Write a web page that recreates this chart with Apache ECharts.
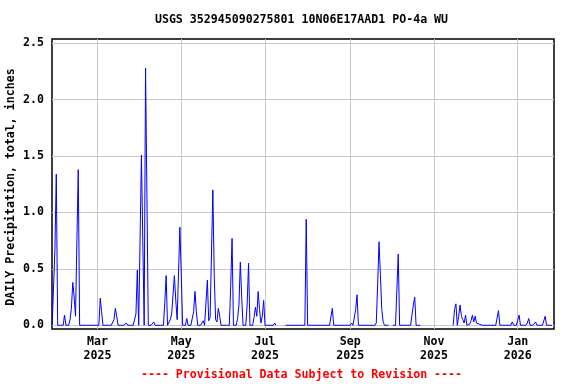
<!DOCTYPE html>
<html><head><meta charset="utf-8">
<script src="https://cdn.jsdelivr.net/npm/echarts@6/dist/echarts.min.js"></script>
<style>html,body{margin:0;padding:0;background:#fff}#c{width:576px;height:384px}</style>
</head><body><div id="c"></div>
<script>
const titleText = 'USGS 352945090275801 10N06E17AAD1 PO-4a WU';
const yAxisTitle = 'DAILY Precipitation, total, inches';
const footerText = '---- Provisional Data Subject to Revision ----';
const yTicks = [0, 0.5, 1.0, 1.5, 2.0, 2.5];
const xTickDates = [[2025, 3, 1], [2025, 5, 1], [2025, 7, 1], [2025, 9, 1], [2025, 11, 1], [2026, 1, 1]];
const monthNames = ['Jan','Feb','Mar','Apr','May','Jun','Jul','Aug','Sep','Oct','Nov','Dec'];

// daily precipitation (inches); null = missing record
const jan2025 = [0, 0, 0.67, 1.34, 0]; // from Jan 27
const feb2025 = [0,0,0,0,0.09, 0,0,0,0.05,0.15, 0.38,0.25,0.08,0.75,1.38, 0,0,0,0,0, 0,0,0,0,0, 0,0,0];
const mar2025 = [0,0,0.24,0.12,0, 0,0,0,0,0, 0,0,0.05,0.15,0.08, 0,0,0,0,0, 0,0.02,0,0,0, 0,0,0,0.10,0.49, 0];
const apr2025 = [0,1.51,0.75,0,2.28, 1.14,0,0,0,0, 0.03,0,0,0,0, 0,0,0,0.20,0.44, 0,0,0.05,0.10,0.10, 0.44,0.22,0.05,0.05,0.87];
const may2025 = [0.45,0,0,0,0.06, 0,0,0,0,0.12, 0.30,0.12,0,0,0, 0,0.04,0,0,0.40, 0.04,0.07,0.07,1.20,0.45, 0.05,0.03,0.15,0.08,0, 0];
const jun2025 = [0,0,0,0,0, 0.35,0.77,0,0,0, 0.06,0.18,0.56,0.25,0, 0,0,0.19,0.55,0, 0,0,0.07,0.16,0.08, 0.30,0.14,0.02,0.08,0.22];
const jul2025 = [0,0,0,0,0, 0,0,0.02,0,null, null,null,null,null,null, 0,0,0,0,0, 0,0,0,0,0, 0,0,0,0,0, 0.94];
const aug2025 = [0,0,0,0,0, 0,0,0,0,0, 0,0,0,0,0, 0,0,0,0.15,0, 0,0,0,0,0, 0,0,0,0,0, 0];
const sep2025 = [0,0.02,0,0,0.14, 0.27,0,0,0,0, 0,0,0,0,0, 0,0,0,0,0.02, 0.36,0.74,0.45,0.14,0.03, 0,0,0,0,null];
const oct2025 = [null,0,0,0,0, 0.63,0,0,0,0, 0,0,0,0,0, 0,0.18,0.25,0,0, 0,0,null,null,null, null,null,null,null,null, null];
const nov2025 = [null,null,null,null,null, null,null,null,null,null, null,null,null,null,0, 0.14,0.19,0,0.08,0.18, 0.08,0.05,0.02,0.09,0, 0.01,0.01,0.04,0.09,0.03];
const dec2025 = [0.08,0.02,0.02,0.01,0.01, 0,0,0,0,0, 0,0,0,0,0, 0,0,0.13,0,0, 0,0,0,0,0, 0,0,0.03,0,0, 0];
const jan2026 = [0,0.09,0,0,0, 0,0,0.02,0.06,0, 0,0,0,0.03,0, 0,0,0,0,0, 0.08,0,0,0,0, 0];

const monthBlocks = [
  [2025, 1, 27, jan2025], [2025, 2, 1, feb2025], [2025, 3, 1, mar2025], [2025, 4, 1, apr2025],
  [2025, 5, 1, may2025], [2025, 6, 1, jun2025], [2025, 7, 1, jul2025], [2025, 8, 1, aug2025],
  [2025, 9, 1, sep2025], [2025, 10, 1, oct2025], [2025, 11, 1, nov2025], [2025, 12, 1, dec2025],
  [2026, 1, 1, jan2026]
];

const seriesData = [];
monthBlocks.forEach(([y, m, d0, vals]) => {
  vals.forEach((v, i) => {
    seriesData.push([new Date(y, m - 1, d0 + i).getTime(), v]);
  });
});

const xTicks = xTickDates.map(([y, m, d]) => new Date(y, m - 1, d).getTime());
const font = '"DejaVu Sans Mono", monospace';
const fs = 11.6;

const chart = echarts.init(document.getElementById('c'), null, {renderer: 'canvas', width: 576, height: 384});
chart.setOption({
  animation: false,
  backgroundColor: '#ffffff',
  title: [
    {text: titleText, left: 301.5, top: 14, textAlign: 'center', padding: 0,
     textStyle: {fontFamily: font, fontWeight: 'bold', fontSize: fs, color: '#000', lineHeight: 12}},
    {text: footerText, left: 301.5, top: 369, textAlign: 'center', padding: 0,
     textStyle: {fontFamily: font, fontWeight: 'bold', fontSize: fs, color: '#ff0000', lineHeight: 12}}
  ],
  graphic: [{
    type: 'text', x: 11, y: 187, rotation: Math.PI / 2,
    style: {text: yAxisTitle, font: 'bold ' + fs + 'px ' + font, fill: '#000',
            textAlign: 'center', textVerticalAlign: 'middle', align: 'center', verticalAlign: 'middle'}
  }],
  grid: {left: 52, right: 22, top: 39, bottom: 55, show: true, borderColor: '#000', borderWidth: 1.5, containLabel: false},
  xAxis: {
    type: 'value',
    min: new Date(2025, 0, 26, 21).getTime(),
    max: new Date(2026, 0, 27, 10).getTime(),
    axisLine: {show: false},
    axisTick: {show: false, customValues: xTicks},
    splitLine: {show: true, lineStyle: {color: '#c8c8c8', width: 1}},
    axisLabel: {
      customValues: xTicks, margin: 6.5, color: '#000', fontFamily: font, fontWeight: 'bold', fontSize: fs, lineHeight: 13.4,
      formatter: (val) => { const d = new Date(val); return monthNames[d.getMonth()] + '\n' + d.getFullYear(); }
    }
  },
  yAxis: {
    type: 'value', min: -0.033, max: 2.538,
    axisLine: {show: false},
    axisTick: {show: false, customValues: yTicks},
    splitLine: {show: true, lineStyle: {color: '#c8c8c8', width: 1}},
    axisLabel: {customValues: yTicks, margin: 8, color: '#000', fontFamily: font, fontWeight: 'bold', fontSize: fs,
                formatter: (v) => v.toFixed(1)}
  },
  series: [{
    type: 'line', data: seriesData, showSymbol: false, connectNulls: false,
    lineStyle: {color: '#0000ff', width: 1}, itemStyle: {color: '#0000ff'}, silent: true
  }]
});
</script>
</body></html>
